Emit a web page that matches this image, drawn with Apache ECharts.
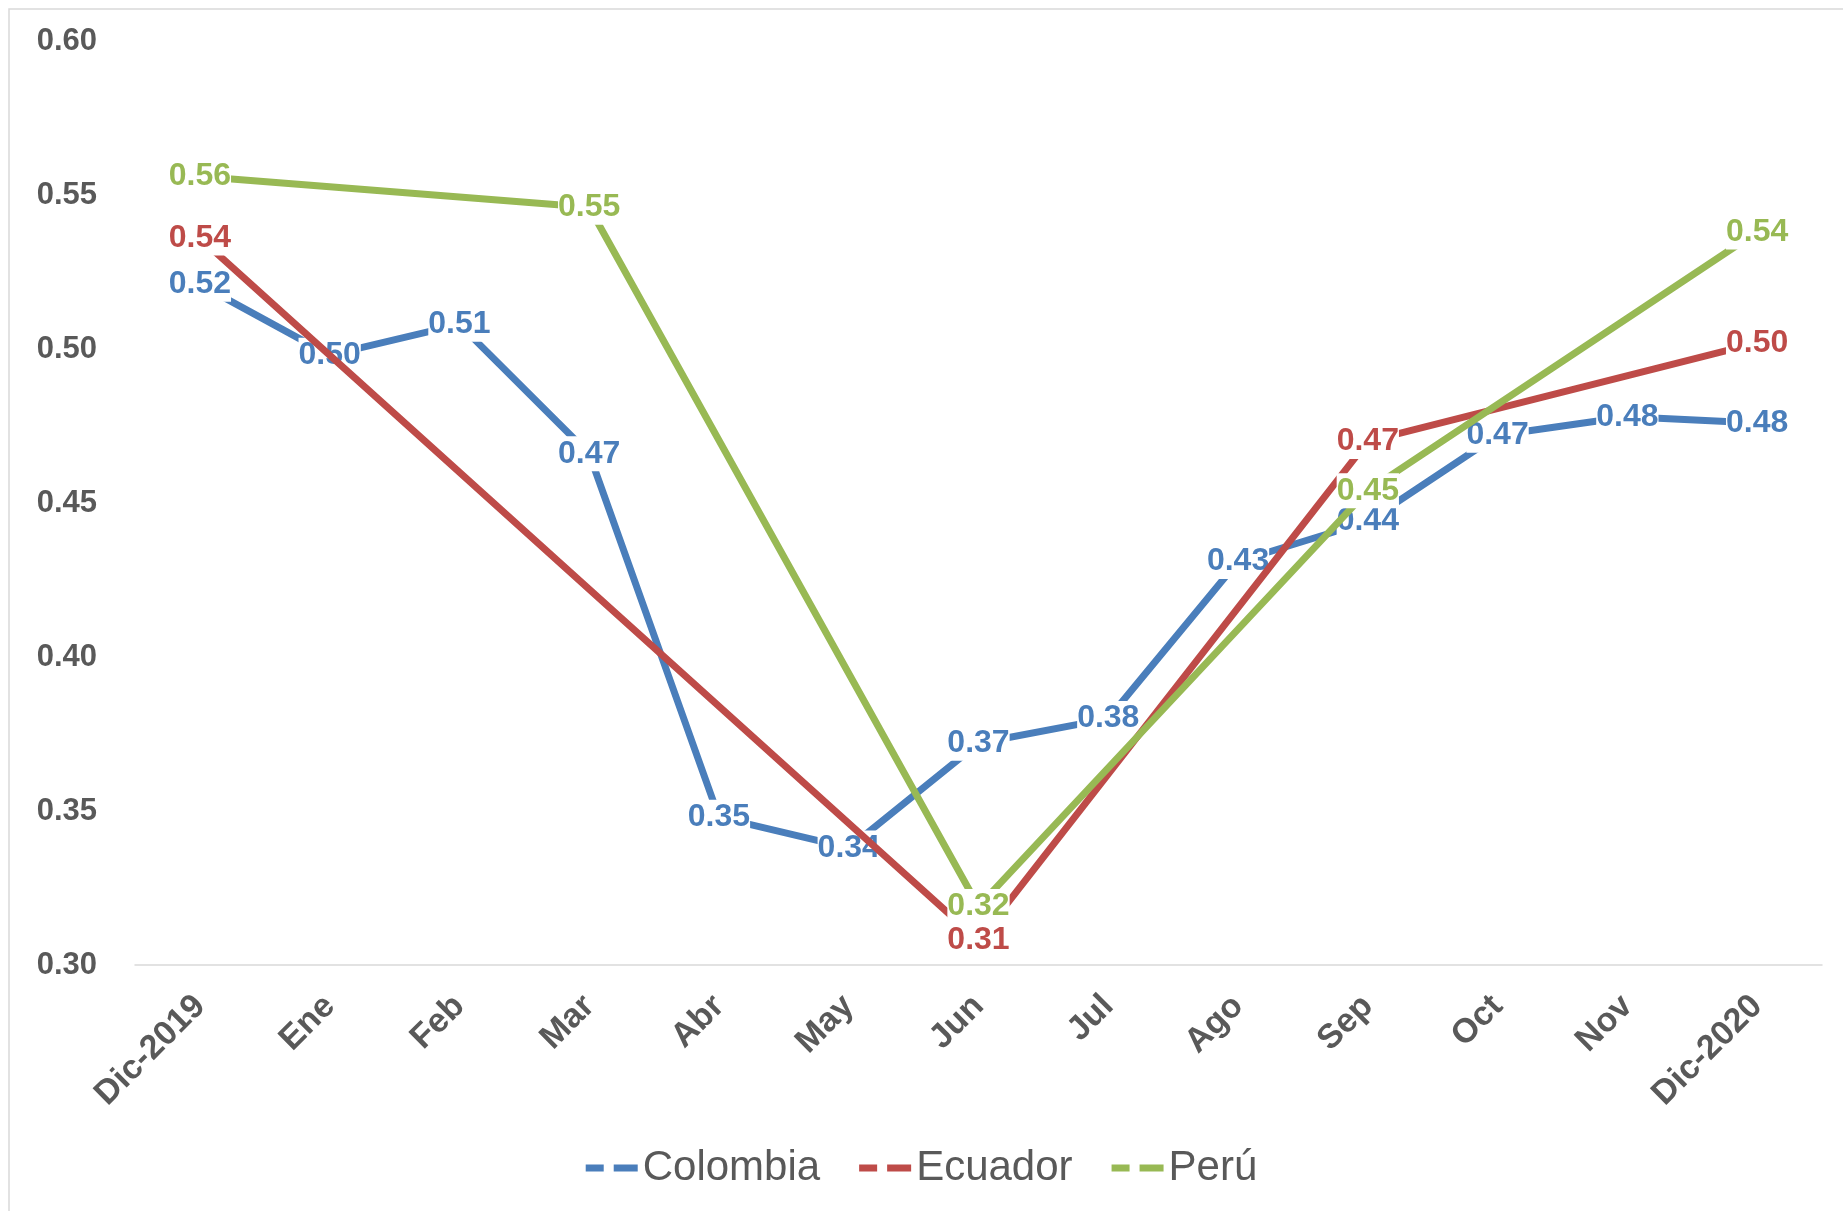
<!DOCTYPE html>
<html>
<head>
<meta charset="utf-8">
<script src="https://cdn.jsdelivr.net/npm/echarts@6/dist/echarts.min.js"></script>
<style>
  html, body { margin: 0; padding: 0; background: #ffffff; }
  #chart { width: 1843px; height: 1211px; }
</style>
</head>
<body>
<div id="chart"></div>
<script>
// Monthly index values, Dec 2019 – Dec 2020
const months = ['Dic-2019', 'Ene', 'Feb', 'Mar', 'Abr', 'May', 'Jun', 'Jul', 'Ago', 'Sep', 'Oct', 'Nov', 'Dic-2020'];
const colombia = [0.521, 0.498, 0.508, 0.466, 0.348, 0.338, 0.372, 0.380, 0.431, 0.444, 0.472, 0.478, 0.476];
const ecuador  = [0.536, null, null, null, null, null, 0.308, null, null, 0.470, null, null, 0.502];
const peru     = [0.556, null, null, 0.546, null, null, 0.319, null, null, 0.454, null, null, 0.538];
const yTicks   = { min: 0.30, max: 0.60, step: 0.05 };

const FONT = '"Liberation Sans", Arial, sans-serif';
const COLORS = { colombia: '#4a7ebb', ecuador: '#be4b48', peru: '#98b954' };

function lineSeries(name, data, color, z) {
  return {
    name: name,
    type: 'line',
    data: data,
    z: z,
    connectNulls: true,
    symbol: 'circle',
    symbolSize: 0.5,
    itemStyle: { color: color },
    lineStyle: { color: color, width: 7 },
    emphasis: { disabled: true },
    label: {
      show: true,
      position: 'inside',
      color: color,
      fontFamily: FONT,
      fontWeight: 'bold',
      fontSize: 32,
      backgroundColor: '#ffffff',
      padding: [0, 0],
      lineHeight: 35,
      formatter: p => p.value == null ? '' : Number(p.value).toFixed(2)
    }
  };
}

const chart = echarts.init(document.getElementById('chart'), null, { renderer: 'canvas' });
chart.setOption({
  animation: false,
  backgroundColor: '#ffffff',
  graphic: [{
    type: 'rect',
    shape: { x: 9, y: 9, width: 1860, height: 1230 },
    style: { fill: 'none', stroke: '#d9d9d9', lineWidth: 1.5 },
    silent: true,
    z: -1
  }],
  grid: { left: 135, right: 21, top: 41, bottom: 246 },
  legend: {
    bottom: 17,
    left: 'center',
    itemWidth: 52,
    itemHeight: 7,
    itemGap: 39,
    icon: 'path://M0,0H18V7H0Z M28,0H52V7H28Z',
    textStyle: { fontFamily: FONT, fontSize: 42, color: '#595959', padding: [0, 0, 0, 0] },
    data: [
      { name: 'Colombia', itemStyle: { color: COLORS.colombia } },
      { name: 'Ecuador', itemStyle: { color: COLORS.ecuador } },
      { name: 'Perú', itemStyle: { color: COLORS.peru } }
    ]
  },
  xAxis: {
    type: 'category',
    data: months,
    boundaryGap: true,
    axisLine: { lineStyle: { color: '#d9d9d9', width: 1.5 } },
    axisTick: { show: false },
    axisLabel: {
      rotate: 45,
      margin: 36,
      interval: 0,
      color: '#595959',
      fontFamily: FONT,
      fontWeight: 'bold',
      fontSize: 34
    }
  },
  yAxis: {
    type: 'value',
    min: yTicks.min,
    max: yTicks.max,
    interval: yTicks.step,
    axisLine: { show: false },
    axisTick: { show: false },
    splitLine: { show: false },
    axisLabel: {
      margin: 38,
      color: '#595959',
      fontFamily: FONT,
      fontWeight: 'bold',
      fontSize: 31,
      formatter: v => v.toFixed(2)
    }
  },
  series: [
    lineSeries('Colombia', colombia, COLORS.colombia, 2),
    lineSeries('Ecuador', ecuador, COLORS.ecuador, 3),
    lineSeries('Perú', peru, COLORS.peru, 4)
  ]
});
</script>
</body>
</html>
